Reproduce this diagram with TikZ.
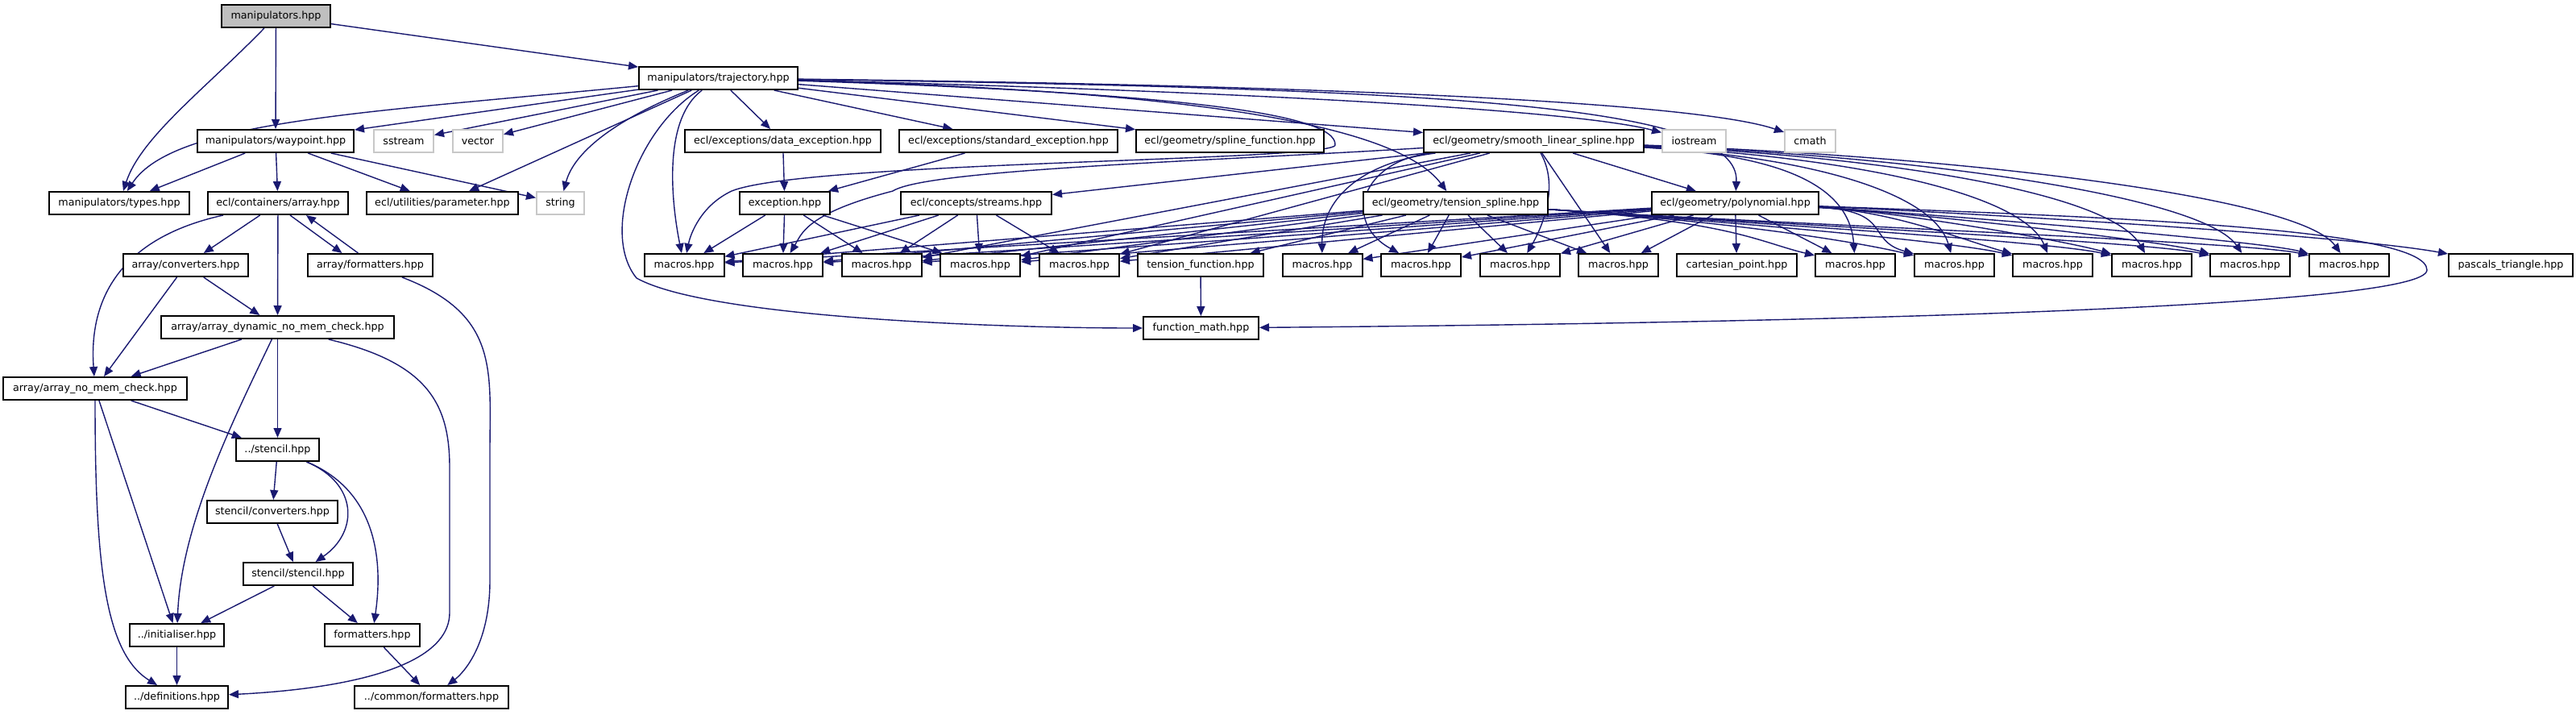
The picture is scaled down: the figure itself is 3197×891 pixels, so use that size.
\documentclass[tikz,border=0pt]{standalone}
\usepackage{fontspec}
\setmainfont{DejaVu Sans}
\usetikzlibrary{arrows.meta}
\definecolor{edgeblue}{HTML}{191970}
\definecolor{rootgray}{HTML}{BFBFBF}
\definecolor{extgray}{HTML}{C8C8C8}
\pgfdeclarelayer{edgelayer}
\pgfsetlayers{edgelayer,main}
\tikzset{
 box/.style={draw=black, fill=white, line width=1pt, minimum height=14pt, inner xsep=1pt, inner ysep=0pt, font=\fontsize{6.35}{7.5}\selectfont, text=black},
 gbox/.style={box, draw=extgray},
 bw/.style={minimum width=#1*0.5pt},
 edg/.style={draw=edgeblue, line width=0.7pt, -{Triangle[length=6pt,width=5pt]}},
}
\begin{document}
\begin{tikzpicture}[x=0.5pt,y=-0.5pt]
\useasboundingbox (0,0) rectangle (3197,891);
% ---- nodes
\node[box,bw=135,fill=rootgray] (manip) at (342.5,20) {manipulators.hpp};
\node[box,bw=197] (traj) at (891.5,97) {manipulators/trajectory.hpp};
\node[box,bw=194] (wayp) at (342,175) {manipulators/waypoint.hpp};
\node[gbox,bw=74] (sstream) at (501,175) {sstream};
\node[gbox,bw=62] (vector) at (593,175) {vector};
\node[box,bw=243] (dexc) at (971.5,175) {ecl/exceptions/data\_exception.hpp};
\node[box,bw=271] (sexc) at (1251.5,175) {ecl/exceptions/standard\_exception.hpp};
\node[box,bw=233] (splf) at (1526.5,175) {ecl/geometry/spline\_function.hpp};
\node[box,bw=273] (smooth) at (1903.5,175) {ecl/geometry/smooth\_linear\_spline.hpp};
\node[gbox,bw=79] (iostr) at (2102.5,175) {iostream};
\node[gbox,bw=63] (cmath) at (2246.5,175) {cmath};
\node[box,bw=174] (types) at (148,252) {manipulators/types.hpp};
\node[box,bw=174] (array) at (345,252) {ecl/containers/array.hpp};
\node[box,bw=188] (param) at (549,252) {ecl/utilities/parameter.hpp};
\node[gbox,bw=59] (string) at (695.5,252) {string};
\node[box,bw=112] (exc) at (974,252) {exception.hpp};
\node[box,bw=187] (streams) at (1211.5,252) {ecl/concepts/streams.hpp};
\node[box,bw=229] (tspl) at (1806.5,252) {ecl/geometry/tension\_spline.hpp};
\node[box,bw=207] (poly) at (2153.5,252) {ecl/geometry/polynomial.hpp};
\node[box,bw=99] (m1) at (849,329) {macros.hpp};
\node[box,bw=99] (m2) at (971.5,329) {macros.hpp};
\node[box,bw=99] (m3) at (1094,329) {macros.hpp};
\node[box,bw=99] (m4) at (1216.5,329) {macros.hpp};
\node[box,bw=99] (m5) at (1339.5,329) {macros.hpp};
\node[box,bw=156] (tfun) at (1490,329) {tension\_function.hpp};
\node[box,bw=99] (m6) at (1641,329) {macros.hpp};
\node[box,bw=99] (m7) at (1763.5,329) {macros.hpp};
\node[box,bw=99] (m8) at (1886.5,329) {macros.hpp};
\node[box,bw=99] (m9) at (2008.5,329) {macros.hpp};
\node[box,bw=149] (cart) at (2155.5,329) {cartesian\_point.hpp};
\node[box,bw=99] (m10) at (2302.5,329) {macros.hpp};
\node[box,bw=99] (m11) at (2425.5,329) {macros.hpp};
\node[box,bw=99] (m12) at (2547.5,329) {macros.hpp};
\node[box,bw=99] (m13) at (2670.5,329) {macros.hpp};
\node[box,bw=99] (m14) at (2792.5,329) {macros.hpp};
\node[box,bw=99] (m15) at (2915.5,329) {macros.hpp};
\node[box,bw=154] (pasc) at (3116,329) {pascals\_triangle.hpp};
\node[box,bw=143] (fmath) at (1490.5,407) {function\_math.hpp};
% left column
\node[box,bw=155] (conv) at (230.5,329) {array/converters.hpp};
\node[box,bw=155] (arrfmt) at (459.5,329) {array/formatters.hpp};
\node[box,bw=289] (adyn) at (344.5,406) {array/array\_dynamic\_no\_mem\_check.hpp};
\node[box,bw=228] (anm) at (118,482) {array/array\_no\_mem\_check.hpp};
\node[box,bw=103] (stencil) at (344.5,558) {../stencil.hpp};
\node[box,bw=162] (sconv) at (338,635) {stencil/converters.hpp};
\node[box,bw=136] (sst) at (370,712) {stencil/stencil.hpp};
\node[box,bw=117] (init) at (219.5,788) {../initialiser.hpp};
\node[box,bw=118] (fmt) at (462,788) {formatters.hpp};
\node[box,bw=127] (defs) at (219.5,865) {../definitions.hpp};
\node[box,bw=191] (cfmt) at (535.5,865) {../common/formatters.hpp};
% ---- edges
\begin{pgfonlayer}{edgelayer}
\fill[white] (0,0) rectangle (3197,891);
\draw[edg] (manip) .. controls (255,110) and (175,170) .. (types);
\draw[edg] (manip) -- (wayp);
\draw[edg] (manip) -- (traj);
\draw[edg] (traj) .. controls (450,140) and (215,150) .. (types);
\draw[edg] (traj) -- (wayp);
\draw[edg] (traj) -- (sstream);
\draw[edg] (traj) -- (vector);
\draw[edg] (traj) -- (param);
\draw[edg] (traj) .. controls (760,150) and (712,190) .. (string);
\draw[edg] (traj) .. controls (820,150) and (835,260) .. (m1);
\draw[edg] (traj) .. controls (790,160) and (745,290) .. (790,345) .. controls (880,395) and (1250,407) .. (fmath);
\draw[edg] (traj) -- (dexc);
\draw[edg] (traj) -- (sexc);
\draw[edg] (traj) -- (splf);
\draw[edg] (traj) -- (smooth);
\draw[edg] (traj) .. controls (1500,112) and (1950,135) .. (iostr);
\draw[edg] (traj) .. controls (1600,105) and (2100,125) .. (cmath);
\draw[edg] (traj) .. controls (1450,112) and (1730,150) .. (tspl);
\draw[edg] (traj) .. controls (1800,110) and (2160,130) .. (poly);
\draw[edg] (traj) .. controls (1450,115) and (1660,140) .. (1657,180) .. controls (1654,200) and (1000,200) .. (908,237) .. controls (870,255) and (857,290) .. (m1);
% waypoint
\draw[edg] (wayp) -- (types);
\draw[edg] (wayp) -- (array);
\draw[edg] (wayp) -- (param);
\draw[edg] (wayp) -- (string);
% array
\draw[edg] (array) -- (conv);
\draw[edg] ([xshift=7.5pt]array.south) -- ([xshift=-17.5pt]arrfmt.north);
\draw[edg] ([xshift=-7.5pt]arrfmt.north) -- ([xshift=17.5pt]array.south);
\draw[edg] (array) -- (adyn);
\draw[edg] (array) .. controls (150,295) and (110,370) .. (anm);
\draw[edg] (arrfmt) .. controls (620,390) and (608,460) .. (608,560) -- (608,720) .. controls (608,800) and (575,835) .. (cfmt);
\draw[edg] (conv) -- (adyn);
\draw[edg] (conv) -- (anm);
\draw[edg] (adyn) -- (anm);
\draw[edg] (adyn) -- (stencil);
\draw[edg] (adyn) .. controls (290,520) and (225,650) .. (init);
\draw[edg] (adyn) .. controls (530,450) and (558,500) .. (558,580) -- (558,760) .. controls (558,830) and (420,855) .. (defs);
\draw[edg] (anm) -- (stencil);
\draw[edg] (anm) -- (init);
\draw[edg] (anm) .. controls (118,700) and (130,810) .. (defs);
\draw[edg] (stencil) -- (sconv);
\draw[edg] (stencil) .. controls (445,600) and (445,660) .. (sst);
\draw[edg] (stencil) .. controls (470,610) and (475,700) .. (fmt);
\draw[edg] (sconv) -- (sst);
\draw[edg] (sst) -- (init);
\draw[edg] (sst) -- (fmt);
\draw[edg] (init) -- (defs);
\draw[edg] (fmt) -- (cfmt);
% exceptions
\draw[edg] (dexc) -- (exc);
\draw[edg] (sexc) -- (exc);
\foreach \t in {m1,m2,m3,m4} \draw[edg] (exc) -- (\t);
\foreach \t in {m1,m2,m3,m4,m5} \draw[edg] (streams) -- (\t);
% smooth linear spline
\draw[edg] (smooth) -- (poly);
\draw[edg] (smooth) -- (streams);
\draw[edg] (smooth) .. controls (1500,200) and (1150,210) .. (1108,237) .. controls (1000,265) and (995,290) .. (m2);
\foreach \t in {m3,m4,m5,m9} \draw[edg] (smooth) -- (\t);
\draw[edg] (smooth) .. controls (1700,200) and (1640,240) .. (m6);
\draw[edg] (smooth) .. controls (1690,200) and (1665,275) .. (m7);
\draw[edg] (smooth) .. controls (1935,230) and (1915,280) .. (m8);
\draw[edg] (smooth) .. controls (2200,192) and (2295,225) .. (m10);
\draw[edg] (smooth) .. controls (2250,195) and (2400,240) .. (m11);
\draw[edg] (smooth) .. controls (2300,195) and (2510,240) .. (m12);
\draw[edg] (smooth) .. controls (2350,195) and (2620,240) .. (m13);
\draw[edg] (smooth) .. controls (2400,195) and (2735,245) .. (m14);
\draw[edg] (smooth) .. controls (2450,195) and (2855,245) .. (m15);
% tension spline
\draw[edg] (tspl) -- (tfun);
\foreach \t in {m1,m2,m3,m4,m5,m6,m7,m8,m9} \draw[edg] (tspl) -- (\t);
\draw[edg] (tspl) .. controls (2150,275) and (2182,300) .. (m10);
\draw[edg] (tspl) .. controls (2150,275) and (2305,300) .. (m11);
\draw[edg] (tspl) .. controls (2150,275) and (2427,300) .. (m12);
\draw[edg] (tspl) .. controls (2150,275) and (2550,300) .. (m13);
\draw[edg] (tspl) .. controls (2150,275) and (2672,300) .. (m14);
\draw[edg] (tspl) .. controls (2150,275) and (2795,300) .. (m15);
% polynomial
\foreach \t in {m1,m2,m3,m4,m5,m6,m7,m8,m9,cart,m10} \draw[edg] (poly) -- (\t);
\draw[edg] (poly) .. controls (2350,262) and (2315,298) .. (m11);
\draw[edg] (poly) .. controls (2350,262) and (2437,298) .. (m12);
\draw[edg] (poly) .. controls (2350,262) and (2560,298) .. (m13);
\draw[edg] (poly) .. controls (2350,262) and (2682,298) .. (m14);
\draw[edg] (poly) .. controls (2350,262) and (2805,298) .. (m15);
\draw[edg] (poly) .. controls (2400,262) and (2900,290) .. (pasc);
\draw[edg] (poly) .. controls (2650,270) and (3012,285) .. (3012,335) .. controls (3012,380) and (2300,400) .. (fmath);
\draw[edg] (tfun) -- (fmath);
\end{pgfonlayer}
\end{tikzpicture}
\end{document}
